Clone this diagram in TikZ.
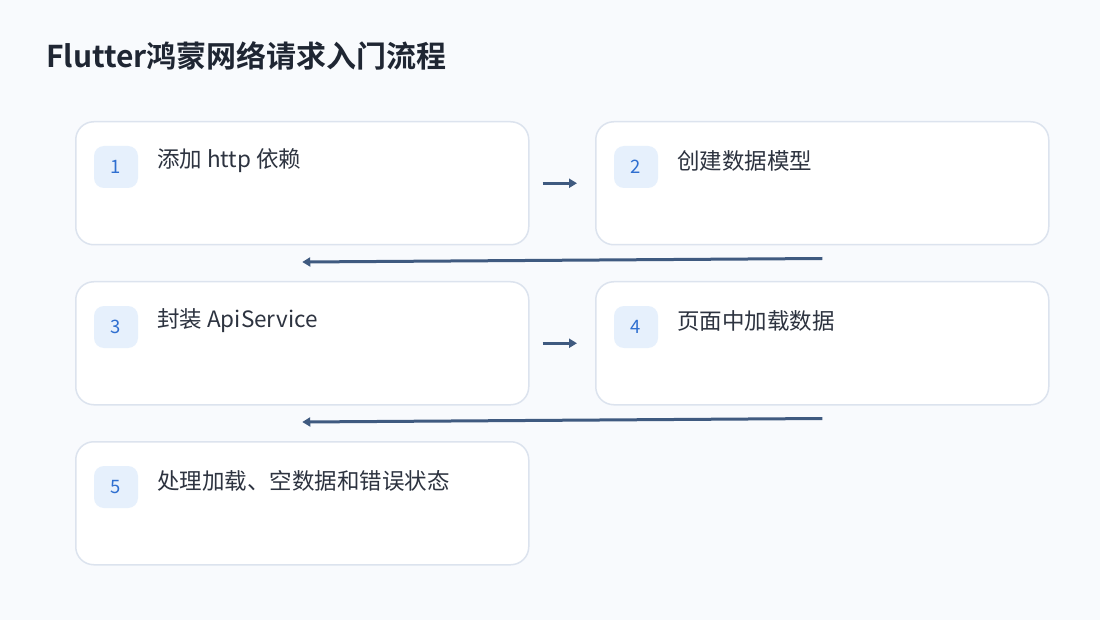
\documentclass[tikz,border=0pt]{standalone}
\usepackage{fontspec}
\setmainfont{Noto Sans CJK SC}
\newfontfamily\cjkbold{Noto Sans CJK SC Bold}
\usetikzlibrary{arrows.meta}
\definecolor{bgc}{HTML}{F8FAFD}
\definecolor{boxline}{HTML}{DCE3EE}
\definecolor{badgefill}{HTML}{E6F0FC}
\definecolor{badgetext}{HTML}{2F6FD0}
\definecolor{titlec}{HTML}{1F2633}
\definecolor{textc}{HTML}{2D3340}
\definecolor{arrowc}{HTML}{3F5A80}
\begin{document}
\begin{tikzpicture}[x=1pt,y=-1pt,
  stepbox/.style={draw=boxline,line width=1.5pt,fill=white,rounded corners=18pt,minimum width=453pt,minimum height=123pt,anchor=north west,inner sep=0pt},
  badge/.style={fill=badgefill,rounded corners=10pt,minimum width=44pt,minimum height=42pt,inner sep=0pt,text=badgetext,font=\fontsize{18.5}{21}\selectfont},
  label/.style={anchor=west,text=textc,font=\fontsize{22.5}{27}\selectfont,inner sep=0pt},
  flow/.style={draw=arrowc,line width=3pt,-{Triangle[length=8pt,width=9pt]}}]
\fill[bgc] (0,0) rectangle (1100,620);
\useasboundingbox (0,0) rectangle (1100,620);
\node[anchor=west,text=titlec,font=\cjkbold\fontsize{30}{34}\selectfont,inner sep=0pt] (title) at (46,56) {Flutter鸿蒙网络请求入门流程};
\node[stepbox] (b1) at (75,121) {};
\node[stepbox] (b2) at (595,121) {};
\node[stepbox] (b3) at (75,281) {};
\node[stepbox] (b4) at (595,281) {};
\node[stepbox] (b5) at (75,441) {};
\node[badge] (n1) at (116,167) {1};
\node[badge] (n2) at (636,167) {2};
\node[badge] (n3) at (116,327) {3};
\node[badge] (n4) at (636,327) {4};
\node[badge] (n5) at (116,487) {5};
\node[label] (t1) at (157,161) {添加 http 依赖};
\node[label] (t2) at (677,161) {创建数据模型};
\node[label] (t3) at (157,321) {封装 ApiService};
\node[label] (t4) at (677,321) {页面中加载数据};
\node[label] (t5) at (157,481) {处理加载、空数据和错误状态};
\draw[flow,shorten <=13pt,shorten >=18pt] (b1.east) -- (b2.west);
\draw[flow,shorten <=13pt,shorten >=18pt] (b3.east) -- (b4.west);
\draw[flow] ([yshift=-13pt]b2.south) -- ([yshift=19pt]b3.north);
\draw[flow] ([yshift=-13pt]b4.south) -- ([yshift=19pt]b5.north);
\end{tikzpicture}
\end{document}
